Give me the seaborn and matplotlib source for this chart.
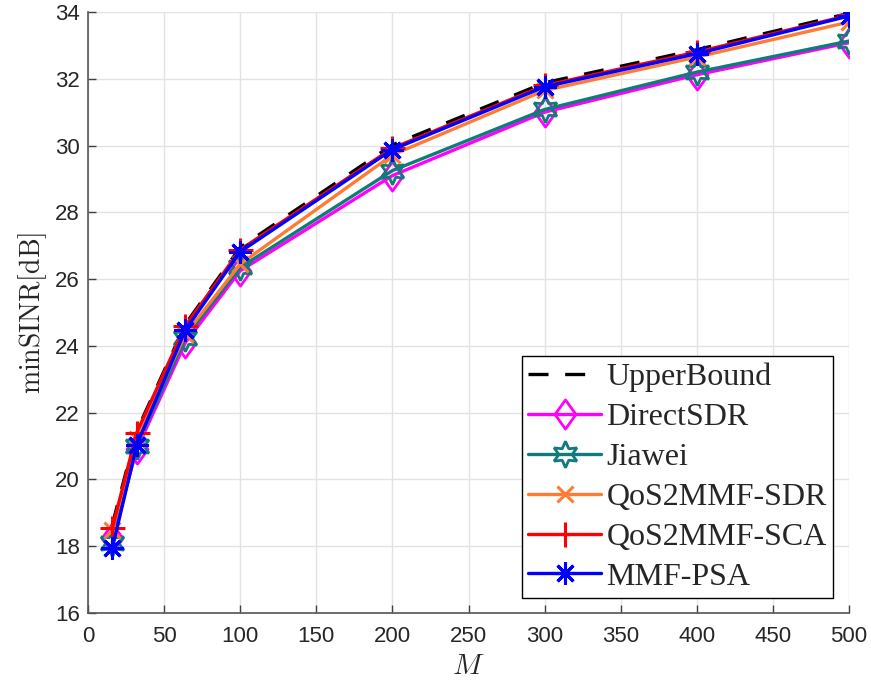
import matplotlib
matplotlib.use("Agg")
import matplotlib.pyplot as plt
from matplotlib.path import Path
import seaborn as sns
import numpy as np

M = [16, 32, 64, 100, 200, 300, 400, 500]
upper_bound = [18.65, 21.45, 24.65, 26.95, 30.02, 31.88, 32.87, 33.96]
direct_sdr = [18.25, 20.9, 24.1, 26.25, 29.1, 31.0, 32.12, 33.08]
jiawei = [18.1, 21.0, 24.25, 26.35, 29.25, 31.08, 32.2, 33.13]
qos_sdr = [18.5, 21.2, 24.35, 26.45, 29.72, 31.65, 32.65, 33.7]
qos_sca = [18.55, 21.4, 24.6, 26.88, 29.92, 31.8, 32.8, 33.9]
mmf_psa = [17.95, 21.03, 24.48, 26.82, 29.88, 31.76, 32.75, 33.88]

x_ticks = [0, 50, 100, 150, 200, 250, 300, 350, 400, 450, 500]
y_ticks = [16, 18, 20, 22, 24, 26, 28, 30, 32, 34]

sns.set_theme(style="whitegrid")
plt.rcParams['font.family'] = ['Liberation Sans', 'DejaVu Sans']
plt.rcParams['mathtext.fontset'] = 'cm'

fig = plt.figure(figsize=(8.71, 6.87), dpi=100)
ax = fig.add_axes([88/871, 1 - 613/687, 761/871, 601/687])

diamond = Path([(0, 1), (0.72, 0), (0, -1), (-0.72, 0), (0, 1)],
               [Path.MOVETO, Path.LINETO, Path.LINETO, Path.LINETO, Path.CLOSEPOLY])

lw = 2.4
series = [
    ("UpperBound", upper_bound, "black", None, dict(linestyle=(0, (6, 5)))),
    ("DirectSDR", direct_sdr, "#FF00FF", diamond, dict(mfc="none", mew=2, ms=21)),
    ("Jiawei", jiawei, "#0F7B7A", (6, 1, 0), dict(mfc="none", mew=2, ms=19)),
    ("QoS2MMF-SDR", qos_sdr, "#FF7A33", "x", dict(mew=2.2, ms=12)),
    ("QoS2MMF-SCA", qos_sca, "#FF0000", "+", dict(mew=2.2, ms=18)),
    ("MMF-PSA", mmf_psa, "#0000FF", (8, 2, 0), dict(mew=2.2, ms=16)),
]
for name, vals, col, mk, kw in series:
    sns.lineplot(x=M, y=vals, ax=ax, color=col, marker=mk, lw=lw, label=name,
                 mec=col, **kw)

ax.set_xlim(0, 500)
ax.set_ylim(16, 34)
ax.set_xticks(x_ticks)
ax.set_yticks(y_ticks)
ax.tick_params(axis='both', labelsize=16, direction='in', length=6, width=1,
               color='#404040', labelcolor='#262626', left=True, bottom=True)
ax.tick_params(axis='x', pad=9)
ax.tick_params(axis='y', pad=6)
ax.grid(True, color='#E3E3E3', lw=1)
for s in ['top', 'right']:
    ax.spines[s].set_visible(False)
for s in ['left', 'bottom']:
    ax.spines[s].set_color('#555555')
    ax.spines[s].set_linewidth(1.2)

ax.set_xlabel(r"$M$", fontsize=21, labelpad=4)
ax.set_ylabel(r"$\mathrm{minSINR[dB]}$", fontsize=20, labelpad=4)

leg = ax.legend(loc='lower right', bbox_to_anchor=(0.979, 0.025), borderaxespad=0,
                prop={'family': 'Liberation Serif', 'size': 23}, handlelength=2.3,
                frameon=True, fancybox=False, edgecolor='black', framealpha=1,
                labelspacing=0.33, handletextpad=0.15, borderpad=0.2)
leg.get_frame().set_linewidth(1)

fig.savefig("out.png", dpi=100)
